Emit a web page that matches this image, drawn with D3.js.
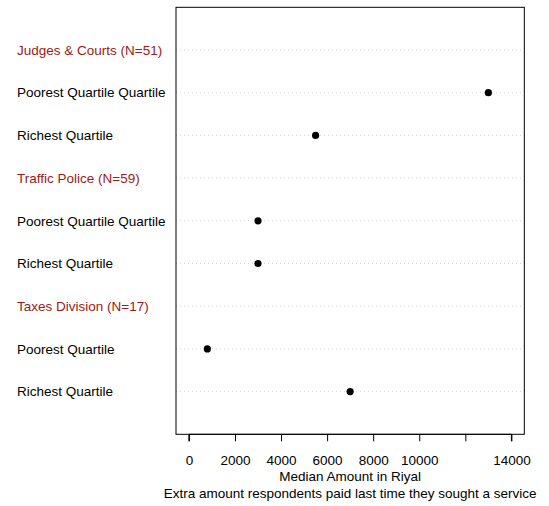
<!DOCTYPE html>
<html>
<head>
<meta charset="utf-8">
<script src="https://cdn.jsdelivr.net/npm/d3@7/dist/d3.min.js"></script>
<style>
  html, body { margin: 0; padding: 0; background: #fff; }
  svg { display: block; font-family: "Liberation Sans", Arial, Helvetica, sans-serif; }
</style>
</head>
<body>
<svg id="chart" width="549" height="506"></svg>
<script>
// Rows, top to bottom: group headers followed by their quartile entries
const rowLabels = [
  "Judges & Courts (N=51)",
  "Poorest Quartile Quartile",
  "Richest Quartile",
  "Traffic Police (N=59)",
  "Poorest Quartile Quartile",
  "Richest Quartile",
  "Taxes Division (N=17)",
  "Poorest Quartile",
  "Richest Quartile"
];
const rowIsGroup = [true, false, false, true, false, false, true, false, false];
// Median extra amount (Riyal); null for header rows
const medianValues = [null, 13000, 5500, null, 3000, 3000, null, 800, 7000];

const xTicks = [0, 2000, 4000, 6000, 8000, 10000, 12000, 14000];
const xTickLabels = ["0", "2000", "4000", "6000", "8000", "10000", "", "14000"];
const xLimits = [0, 14000];

const fontSize = 13.5;
const svg = d3.select("#chart");
const box = { left: 176, right: 524.3, top: 7.3, bottom: 434.3 };

// R-style 4% padding on the x range
const pad = (xLimits[1] - xLimits[0]) * 0.04;
const x = d3.scaleLinear()
  .domain([xLimits[0] - pad, xLimits[1] + pad])
  .range([box.left, box.right]);

// Row positions: n rows in a range of 0..n+1
const n = rowLabels.length;
const y = d3.scaleLinear().domain([0, n + 1]).range([box.bottom, box.top]);
const rowY = i => y(n - i);

// Dotted guide lines
svg.append("g").selectAll("line")
  .data(rowLabels)
  .join("line")
  .attr("x1", box.left)
  .attr("x2", box.right)
  .attr("y1", (d, i) => rowY(i))
  .attr("y2", (d, i) => rowY(i))
  .attr("stroke", "#d3d3d3")
  .attr("stroke-width", 1)
  .attr("stroke-dasharray", "1,3");

// Row labels
svg.append("g").selectAll("text")
  .data(rowLabels)
  .join("text")
  .attr("x", 17)
  .attr("y", (d, i) => rowY(i))
  .attr("dy", "0.35em")
  .attr("font-size", fontSize)
  .attr("fill", (d, i) => rowIsGroup[i] ? "#a01818" : "#000")
  .text(d => d);

// Points
svg.append("g").selectAll("circle")
  .data(medianValues.map((v, i) => ({ v, i })).filter(d => d.v !== null))
  .join("circle")
  .attr("cx", d => x(d.v))
  .attr("cy", d => rowY(d.i))
  .attr("r", 3.6)
  .attr("fill", "#000");

// Plot frame
svg.append("rect")
  .attr("x", box.left)
  .attr("y", box.top)
  .attr("width", box.right - box.left)
  .attr("height", box.bottom - box.top)
  .attr("fill", "none")
  .attr("stroke", "#000")
  .attr("stroke-width", 1);

// Bottom axis
const axis = d3.axisBottom(x)
  .tickValues(xTicks)
  .tickFormat((d, i) => xTickLabels[i])
  .tickSize(7)
  .tickPadding(14);
const gAxis = svg.append("g")
  .attr("transform", `translate(0,${box.bottom})`)
  .call(axis);
gAxis.selectAll("text")
  .attr("font-size", fontSize)
  .attr("font-family", "Liberation Sans, Arial, Helvetica, sans-serif")
  .attr("fill", "#000");
gAxis.selectAll("line, path").attr("stroke", "#000");
gAxis.select(".domain")
  .attr("d", `M${x(xTicks[0])},7V0H${x(xTicks[xTicks.length - 1])}V7`);

// Axis titles
const cx = (box.left + box.right) / 2;
svg.append("text")
  .attr("x", cx).attr("y", 476).attr("dy", "0.35em")
  .attr("text-anchor", "middle").attr("font-size", fontSize)
  .text("Median Amount in Riyal");
svg.append("text")
  .attr("x", cx).attr("y", 493).attr("dy", "0.35em")
  .attr("text-anchor", "middle").attr("font-size", fontSize)
  .text("Extra amount respondents paid last time they sought a service");
</script>
</body>
</html>
